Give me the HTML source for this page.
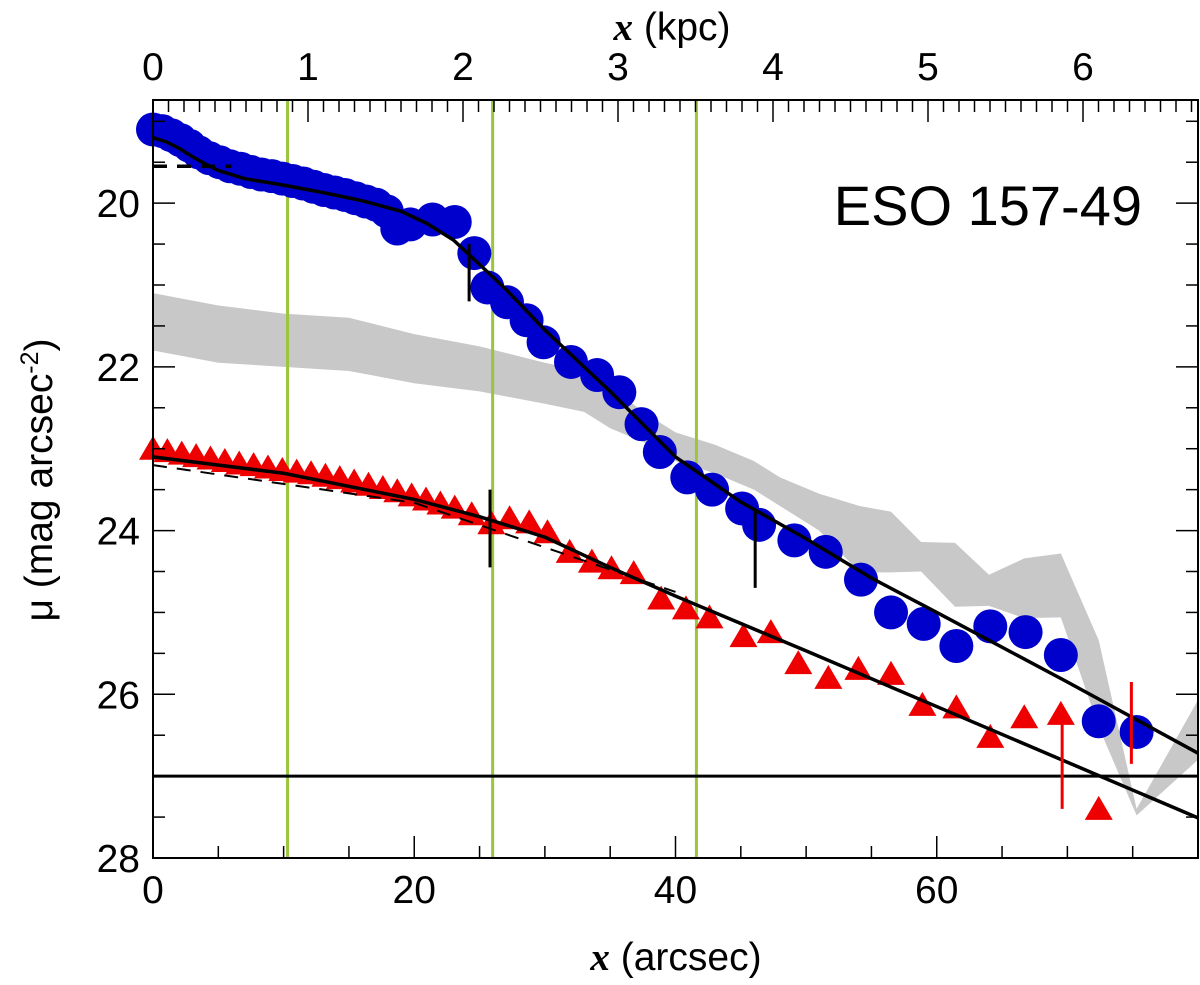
<!DOCTYPE html>
<html><head><meta charset="utf-8"><style>
body{margin:0;background:#fff;}
svg{display:block;font-family:"Liberation Sans",sans-serif;}
</style></head><body>
<svg id="chart" width="1200" height="985" viewBox="0 0 1200 985" xmlns="http://www.w3.org/2000/svg"></svg>
<script>
const blueX=[0,0.7,1.4,2.1,2.8,3.5,4.3,5.1,5.9,6.7,7.5,8.3,9.1,9.9,10.7,11.5,12.3,13.1,13.9,14.7,15.5,16.3,17.1,17.9,18.7,19.7,21.4,23.1,24.6,25.6,27.1,28.6,29.9,32.0,34.0,35.7,37.4,38.8,40.9,42.8,45.1,46.4,49.1,51.5,54.2,56.5,59.0,61.5,64.1,66.8,69.5,72.4,75.3];
const blueY=[19.1,19.12,19.17,19.23,19.3,19.38,19.45,19.5,19.55,19.58,19.62,19.65,19.67,19.7,19.73,19.76,19.8,19.84,19.87,19.9,19.94,19.98,20.02,20.1,20.31,20.26,20.2,20.23,20.61,21.03,21.21,21.43,21.7,21.94,22.1,22.31,22.7,23.04,23.35,23.5,23.73,23.93,24.12,24.26,24.6,25.0,25.14,25.41,25.17,25.24,25.52,26.33,26.46];
const redX=[0,1.1,2.2,3.3,4.4,5.5,6.6,7.7,8.8,9.9,11,12.1,13.2,14.3,15.4,16.5,17.6,18.7,19.8,20.9,22,23.1,24.4,25.9,27.3,28.8,30.2,31.9,33.6,35.1,36.8,38.9,40.8,42.6,45.2,47.3,49.4,51.7,54.0,56.5,58.9,61.5,64.1,66.7,69.5,72.4];
const redY=[23.0,23.03,23.06,23.09,23.12,23.15,23.18,23.2,23.23,23.26,23.28,23.3,23.33,23.36,23.4,23.44,23.48,23.52,23.57,23.62,23.67,23.72,23.8,23.91,23.85,23.9,24.02,24.26,24.38,24.46,24.52,24.83,24.95,25.06,25.29,25.24,25.62,25.8,25.69,25.75,26.13,26.16,26.52,26.28,26.24,27.4];
const bandX=[0,5,10,15,20,25,30,33,35,38,40,43,46,48,51,54.1,56.5,58.8,61.4,64.0,66.7,69.5,72.4,75.3,80];
const bandHi=[21.1,21.25,21.35,21.4,21.6,21.75,21.95,22.05,22.25,22.6,22.8,22.95,23.15,23.35,23.55,23.7,23.77,24.14,24.15,24.54,24.34,24.28,25.34,27.4,26.07];
const bandLo=[21.8,21.95,22.0,22.05,22.2,22.3,22.45,22.55,22.75,22.95,23.15,23.3,23.5,23.7,24.0,24.51,24.51,24.5,24.93,24.92,25.07,25.06,26.4,27.48,26.8];
const fitBX=[0,1,2,3,4,5,7,10,13,16,19,21,23,25,27,30,35,40,45,50,55,60,70,80];
const fitBY=[19.2,19.25,19.33,19.43,19.52,19.6,19.7,19.78,19.87,19.97,20.1,20.25,20.45,20.75,21.05,21.55,22.3,23.1,23.65,24.1,24.58,25.0,25.85,26.72];
const fitRX=[0,10,20,25,30,35,40,50,60,70,80];
const fitRY=[23.1,23.3,23.62,23.83,24.08,24.45,24.8,25.47,26.15,26.83,27.51];
const greenX=[10.3,26.0,41.6];
const xTicks=[0,20,40,60];
const yTicks=[20,22,24,26,28];
const kpcTicks=[0,1,2,3,4,5,6];
const svg=document.getElementById('chart');
const NS='http://www.w3.org/2000/svg';
const L=153,R=1198,T=100,B=858;
const sx=v=>L+v*(R-L)/80;
const sy=v=>T+(v-18.74)*(B-T)/(28-18.74);
const kx=v=>L+v*155;
function mk(tag,a,p){const e=document.createElementNS(NS,tag);for(const k in a)e.setAttribute(k,a[k]);(p||svg).appendChild(e);return e;}
let d='M'+bandX.map((x,i)=>sx(x)+','+sy(bandHi[i])).join('L');
for(let i=bandX.length-1;i>=0;i--)d+='L'+sx(bandX[i])+','+sy(bandLo[i]);
let e=mk('path',{d:d+'Z',fill:'#c8c8c8'});


greenX.forEach(g=>{const l=mk('line',{x1:sx(g),x2:sx(g),y1:T,y2:B,stroke:'#9bc53d','stroke-width':3});

});
e=mk('line',{x1:L,x2:R,y1:sy(27),y2:sy(27),stroke:'#000','stroke-width':3});


blueX.forEach((x,i)=>{const c=mk('circle',{cx:sx(x),cy:sy(blueY[i]),r:17,fill:'#0000cc'});

});
redX.forEach((x,i)=>{const X=sx(x),Y=sy(redY[i]);const t=mk('polygon',{points:`${X},${Y-13} ${X-14},${Y+11} ${X+14},${Y+11}`,fill:'#ee0000'});

});
function poly(xs,ys,name,extra){const p=mk('polyline',Object.assign({points:xs.map((x,i)=>sx(x)+','+sy(ys[i])).join(' '),fill:'none',stroke:'#000','stroke-width':3.5,'stroke-linejoin':'round'},extra||{}));

}
poly(fitBX,fitBY,'blue-fit');
poly(fitRX,fitRY,'red-fit');
poly([0,6],[19.55,19.55],'blue-dashed-fit',{'stroke-dasharray':'14,10'});
poly([0,20,40],[23.2,23.66,24.75],'red-dashed-fit',{'stroke-dasharray':'14,10','stroke-width':2});
[[24.2,20.5,21.2,'#000'],[46.1,23.75,24.7,'#000'],[25.8,23.5,24.45,'#000'],[74.9,25.85,26.85,'#e00'],[69.6,26.3,27.4,'#e00']].forEach(m=>{
const l=mk('line',{x1:sx(m[0]),x2:sx(m[0]),y1:sy(m[1]),y2:sy(m[2]),stroke:m[3],'stroke-width':3});

});
e=mk('rect',{x:L,y:T,width:R-L,height:B-T,fill:'none',stroke:'#000','stroke-width':2});


for(let v=0;v<=80;v+=5){const M=v%20==0,h=M?22:12;mk('line',{x1:sx(v),x2:sx(v),y1:B,y2:B-h,stroke:'#000','stroke-width':1.5});}
for(let v=0;v<=6.7;v+=0.1){const M=Math.abs(v-Math.round(v))<0.01,h=M?22:12;if(kx(v)<R)mk('line',{x1:kx(v),x2:kx(v),y1:T,y2:T+h,stroke:'#000','stroke-width':1.5});}
for(let v=19;v<=28;v+=0.5){const M=v%2==0,h=M?22:12;mk('line',{x1:L,x2:L+h,y1:sy(v),y2:sy(v),stroke:'#000','stroke-width':1.5});mk('line',{x1:R,x2:R-h,y1:sy(v),y2:sy(v),stroke:'#000','stroke-width':1.5});}
xTicks.forEach(v=>{const t=mk('text',{x:sx(v),y:903,'font-size':39,'text-anchor':'middle'});t.textContent=v;

});
kpcTicks.forEach(v=>{const t=mk('text',{x:kx(v),y:80,'font-size':39,'text-anchor':'middle'});t.textContent=v;

});
yTicks.forEach(v=>{const t=mk('text',{x:140,y:sy(v)+14,'font-size':39,'text-anchor':'end'});t.textContent=v;

});
</script>
<svg style="position:absolute;left:0;top:0" width="1200" height="985">
<text x="676" y="970" font-size="39" text-anchor="middle" font-family="Liberation Sans,sans-serif"><tspan font-family="Liberation Serif,serif" font-style="italic" font-weight="bold">x</tspan> (arcsec)</text>
<text x="672" y="40" font-size="39" text-anchor="middle" font-family="Liberation Sans,sans-serif"><tspan font-family="Liberation Serif,serif" font-style="italic" font-weight="bold">x</tspan> (kpc)</text>
<text transform="translate(52,480) rotate(-90)" font-size="39" text-anchor="middle" font-family="Liberation Sans,sans-serif">μ (mag arcsec<tspan dy="-14" font-size="25">-2</tspan><tspan dy="14">)</tspan></text>
<text x="1142" y="225" font-size="56" text-anchor="end" font-family="Liberation Sans,sans-serif">ESO 157-49</text>
</svg>
</body></html>
